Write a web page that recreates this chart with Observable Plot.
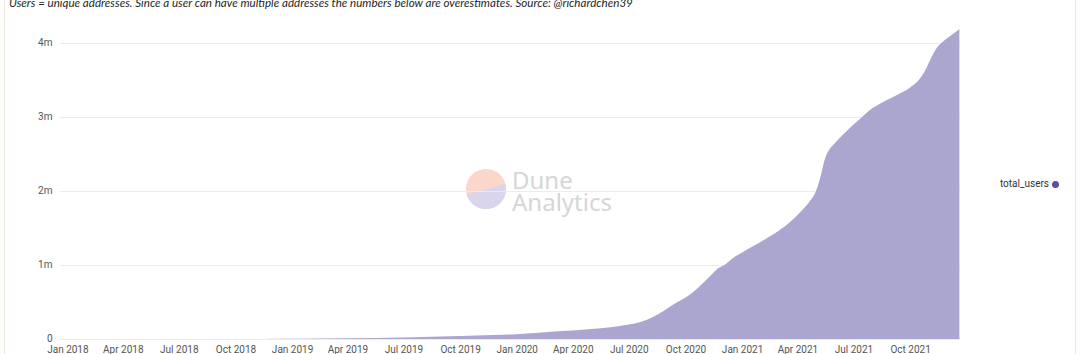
<!DOCTYPE html>
<html>
<head>
<meta charset="utf-8">
<script src="https://cdn.jsdelivr.net/npm/d3@7"></script>
<script src="https://cdn.jsdelivr.net/npm/@observablehq/plot@0.6"></script>
<style>
  html, body { margin: 0; padding: 0; background: #fff; }
  #wrap { position: relative; width: 1080px; height: 354px; overflow: hidden; font-family: Roboto, "Noto Sans", sans-serif; }
  #subtitle { position: absolute; left: 9px; top: -4px; font-size: 11.6px; line-height: 13px; font-style: italic; color: #1f1f1f; font-family: Lato, "Open Sans", sans-serif; white-space: nowrap; }
  #bl { position: absolute; left: 4px; top: 0; width: 1px; height: 354px; background: #efe4d9; }
  #br { position: absolute; left: 1075px; top: 0; width: 1px; height: 354px; background: #efe4d9; }
  #legend { position: absolute; left: 958px; top: 177px; width: 91px; text-align: right; font-size: 10px; line-height: 14px; color: #333; }
  #legend span.dot { position: absolute; left: 94px; top: 3.5px; width: 7px; height: 7px; border-radius: 50%; background: #5a4fa3; }
  #wm { position: absolute; left: 466px; top: 166px; width: 170px; height: 60px; pointer-events: none; }
  #plot { position: absolute; left: 0; top: 0; }
</style>
</head>
<body>
<div id="wrap">
  <div id="bl"></div><div id="br"></div>
  <div id="wm">
    <svg width="170" height="60" viewBox="0 0 170 60">
      <defs><clipPath id="c"><circle cx="20" cy="23" r="20"/></clipPath></defs>
      <g clip-path="url(#c)">
        <rect x="0" y="0" width="40" height="46" fill="#fbd6ca"/>
        <path d="M0,28 C12,26 26,22 40,18 L40,46 L0,46 Z" fill="#d8d5ec"/>
      </g>
      <text x="46" y="23" font-family="'Noto Sans', sans-serif" font-size="24" fill="#d6d6d6">Dune</text>
      <text x="46" y="45" font-family="'Noto Sans', sans-serif" font-size="24" fill="#d6d6d6">Analytics</text>
    </svg>
  </div>
  <div id="plot"></div>
  <div id="subtitle">Users = unique addresses. Since a user can have multiple addresses the numbers below are overestimates. Source: @richardchen39</div>
  <div id="legend">total_users<span class="dot"></span></div>
</div>
<script>
// Data (cumulative unique addresses, millions)
const dates = [
  "2018-01-01","2018-04-01","2018-07-01","2018-10-01","2018-11-15",
  "2019-01-01","2019-04-01","2019-07-01","2019-10-01",
  "2020-01-01","2020-02-01","2020-03-01","2020-04-01","2020-05-01","2020-06-01",
  "2020-07-01","2020-07-20","2020-08-10","2020-08-25","2020-09-10","2020-09-25",
  "2020-10-10","2020-10-25","2020-11-10","2020-11-22","2020-12-05","2020-12-15",
  "2021-01-01","2021-01-20","2021-02-10","2021-03-01","2021-03-20","2021-04-05",
  "2021-04-20","2021-05-01","2021-05-08","2021-05-15","2021-05-22","2021-06-01",
  "2021-06-15","2021-07-01","2021-07-15","2021-08-01","2021-08-15","2021-09-01",
  "2021-09-15","2021-10-01","2021-10-15","2021-10-25","2021-11-03","2021-11-12",
  "2021-11-25","2021-12-08","2021-12-20"
];
const totalUsersM = [
  0,0,0,0,0.001,
  0.004,0.010,0.020,0.040,
  0.065,0.080,0.100,0.115,0.135,0.160,
  0.195,0.23,0.30,0.37,0.46,0.53,
  0.61,0.72,0.85,0.95,1.01,1.08,
  1.17,1.26,1.36,1.46,1.58,1.71,
  1.85,2.00,2.18,2.42,2.55,2.65,
  2.77,2.90,3.00,3.12,3.19,3.26,
  3.32,3.40,3.50,3.62,3.78,3.92,
  4.03,4.11,4.19
];
const yTicks = [0, 1e6, 2e6, 3e6, 4e6];
const xTickDates = ["2018-01-01","2018-04-01","2018-07-01","2018-10-01","2019-01-01","2019-04-01","2019-07-01","2019-10-01","2020-01-01","2020-04-01","2020-07-01","2020-10-01","2021-01-01","2021-04-01","2021-07-01","2021-10-01"];
const seriesName = "total_users";

const data = dates.map((d, i) => ({date: new Date(d + "T00:00:00Z"), users: totalUsersM[i] * 1e6}));
const fmtX = d3.utcFormat("%b %Y");

const chart = Plot.plot({
  width: 1080,
  height: 354,
  marginLeft: 60,
  marginRight: 120,
  marginTop: 20.8,
  marginBottom: 15,
  style: {fontFamily: "Roboto, 'Noto Sans', sans-serif", fontSize: "10px", color: "#555", background: "transparent"},
  x: {type: "utc", domain: [new Date("2017-12-20T00:00:00Z"), new Date("2021-12-21T00:00:00Z")]},
  y: {domain: [0, 4.3e6]},
  marks: [
    Plot.gridY(yTicks, {stroke: "#ececec", strokeOpacity: 1}),
    Plot.areaY(data, {x: "date", y: "users", fill: "#aba6d0", curve: "monotone-x"}),
    Plot.axisY(yTicks, {tickSize: 0, tickPadding: 8, label: null, tickFormat: d => d === 0 ? "0" : (d / 1e6) + "m", fill: "#555", dy: -1}),
    Plot.axisX(xTickDates.map(d => new Date(d + "T00:00:00Z")), {tickSize: 0, tickPadding: 6, label: null, tickFormat: fmtX, fill: "#555"})
  ]
});
document.getElementById("plot").appendChild(chart);
</script>
</body>
</html>
